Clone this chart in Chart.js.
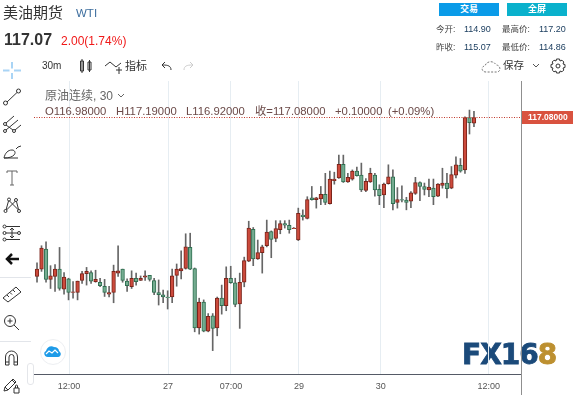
<!DOCTYPE html>
<html>
<head>
<meta charset="utf-8">
<script src="https://cdn.jsdelivr.net/npm/chart.js@4"></script>
<style>
html, body { margin: 0; padding: 0; background: #fff; }
#page { position: relative; width: 573px; height: 395px; overflow: hidden; font-family: "Liberation Sans", "Noto Sans CJK SC", sans-serif; color: #333; }
#page div { position: absolute; white-space: nowrap; line-height: 1; }
#chart { position: absolute; left: 0; top: 0; }
#page svg { position: absolute; fill: none; stroke: #333; stroke-width: 1; }
.btn { color: #fff; font-size: 9px; font-weight: bold; text-align: center; height: 13px; line-height: 13px !important; top: 3px; width: 60px; }
.stat { font-size: 8.5px; color: #444; }
.num { font-size: 9px; color: #1d3f60; }
.ohlc { font-size: 11.3px; color: #6b4a48; top: 106px; }
#logo { left: 462px; top: 341px; font-family: "DejaVu Sans"; font-weight: bold; font-size: 28px; letter-spacing: -1px; color: #1b4a7a; -webkit-text-stroke: 0.8px #1b4a7a; filter: blur(0.5px); }
#logo b { color: #bd9030; -webkit-text-stroke: 0.8px #bd9030; }
</style>
</head>
<body>
<div id="page">
  <div id="logo">FX16<b>8</b></div>
  <canvas id="chart" width="573" height="395"></canvas>

  <div style="left:3px;top:5px;font-size:15px">美油期货</div>
  <div style="left:76px;top:8px;font-size:11.5px;color:#3d6e9e">WTI</div>
  <div style="left:4px;top:32px;font-size:16px;font-weight:bold">117.07</div>
  <div style="left:61px;top:35px;font-size:12px;color:#f01818">2.00(1.74%)</div>

  <div class="btn" style="left:439px;background:#0a9be8">交易</div>
  <div class="btn" style="left:507px;background:#0ab1cc">全屏</div>
  <div class="stat" style="left:436px;top:25px">今开:</div>
  <div class="num" style="left:464px;top:25px">114.90</div>
  <div class="stat" style="left:502px;top:25px">最高价:</div>
  <div class="num" style="left:539px;top:25px">117.20</div>
  <div class="stat" style="left:436px;top:43px">昨收:</div>
  <div class="num" style="left:464px;top:43px">115.07</div>
  <div class="stat" style="left:502px;top:43px">最低价:</div>
  <div class="num" style="left:539px;top:43px">114.86</div>

  <div style="left:42px;top:61px;font-size:10px">30m</div>
  <div style="left:125px;top:61px;font-size:11px">指标</div>
  <div style="left:503px;top:60px;font-size:10.5px">保存</div>

  <div style="left:45px;top:90px;font-size:12px;color:#666">原油连续, 30</div>
  <svg style="left:117px;top:93px;stroke:#666" width="8" height="6"><path d="M1 1l3 3 3-3"/></svg>
  <div class="ohlc" style="left:45px">O116.98000</div>
  <div class="ohlc" style="left:116px">H117.19000</div>
  <div class="ohlc" style="left:186px">L116.92000</div>
  <div class="ohlc" style="left:255px">收=117.08000</div>
  <div class="ohlc" style="left:335px">+0.10000</div>
  <div class="ohlc" style="left:388px">(+0.09%)</div>

  <!-- top toolbar -->
  <svg style="left:78px;top:58px" width="15" height="16"><path d="M2.500 3v10h3V3zM4 1v14M10 4v8h3V4zM11.500 2v12"/></svg>
  <svg style="left:104px;top:58px" width="19" height="18"><path d="M1 8l5-4 6 5 5-4M12 12h6M15 9v7"/></svg>
  <svg style="left:160px;top:59px" width="13" height="13"><path d="M11 11c0-4-3-5-8-5M5 3L2 6l3 3"/></svg>
  <svg style="left:182px;top:59px;stroke:#ccc" width="13" height="13"><path d="M2 11c0-4 3-5 8-5M8 3l3 3-3 3"/></svg>
  <svg style="left:481px;top:59px;stroke:#777;stroke-dasharray:2 1.5" width="21" height="15"><path d="M5 13c-5 0-5-6-1-6 1-5 9-6 11-1 5 0 5 7 1 7z"/></svg>
  <svg style="left:532px;top:63px;stroke:#555" width="9" height="6"><path d="M1 1l3 3 3-3"/></svg>
  <svg style="left:550px;top:58px" width="16" height="16"><circle cx="8" cy="8" r="2"/><path d="M6.500 1h3l.5 2 2-.8 1.800 1.800-.8 2 2 .5v3l-2 .5.8 2-1.800 1.800-2-.8-.5 2h-3l-.5-2-2 .8-1.800-1.800.8-2-2-.5v-3l2-.5-.8-2L4 2.200l2 .8z"/></svg>

  <!-- left drawing toolbar -->
  <svg style="left:3px;top:62px;stroke:#a9d4f5;stroke-width:2" width="18" height="17"><path d="M0 8.500h6.500M11 8.500h7M9 0v6.500M9 11v6"/></svg>
  <svg style="left:3px;top:88px" width="18" height="18"><circle cx="2.500" cy="15" r="2"/><circle cx="15.500" cy="3" r="2"/><path d="M4 14L14 4.500"/></svg>
  <svg style="left:3px;top:115px" width="18" height="18"><circle cx="2" cy="9" r="1.500"/><circle cx="2" cy="16" r="1.500"/><circle cx="11" cy="16" r="1.500"/><path d="M3 8l8-7M3 15L15 5M12 15l6-5M3 10l7 5"/></svg>
  <svg style="left:3px;top:142px" width="20" height="18"><path d="M1 16h14M1 16c1-5 4-8 8-8 3 0 4 3 2 5-2 2-5 3-10 3zM13 7l2-2 3-1"/></svg>
  <svg style="left:6px;top:170px;stroke:#666" width="12" height="16"><path d="M1 3V1h10v2M6 1v14M4 15h4"/></svg>
  <svg style="left:3px;top:197px" width="18" height="17"><circle cx="2.500" cy="14" r="1.500"/><circle cx="6" cy="2.500" r="1.500"/><circle cx="13" cy="3" r="1.500"/><circle cx="16" cy="14" r="1.500"/><path d="M3.500 13L12.500 4M6.500 4l9 9M3 13L5.500 4M13.500 4.500l2 8"/></svg>
  <svg style="left:2px;top:224px" width="19" height="18"><circle cx="2.500" cy="2.500" r="1.500"/><circle cx="2.500" cy="9" r="1.500"/><circle cx="2.500" cy="15.500" r="1.500"/><circle cx="17" cy="9" r="1.500"/><path d="M4 2.500h14M4 9h11.500M4 15.500h14M10 4v10M8 6l2-2 2 2M8 12l2 2 2-2"/></svg>
  <svg style="left:5px;top:252px;stroke:#111;stroke-width:2.500" width="14" height="14"><path d="M7 2L2 7l5 5M2 7h12"/></svg>
  <div style="left:0;top:277px;width:31px;height:1px;background:#e2e5ea"></div>
  <svg style="left:2px;top:285px" width="20" height="18"><path d="M1 13L14 2l5 5L6 17zM5 10l2 2M8 7.500l2 2M11 5l2 2"/></svg>
  <svg style="left:3px;top:314px" width="17" height="17"><circle cx="7" cy="7" r="5.500"/><path d="M4.500 7h5M7 4.500v5M11 11l5 5"/></svg>
  <div style="left:0;top:341px;width:31px;height:1px;background:#e2e5ea"></div>
  <svg style="left:4px;top:350px" width="15" height="17"><path d="M1.500 15V7a6 6 0 0 1 12 0v8h-3.500V7a2.500 2.500 0 0 0-5 0v8zM1.500 12h3.500M10 12h3.500"/></svg>
  <svg style="left:3px;top:377px" width="18" height="17"><path d="M1 14l1-4L10 2l3 3-8 8zM2 10l3 3M9 3l3 3"/><path d="M11 11h5v5h-5zM12.500 11V9a1 1 0 0 1 2 0v2"/></svg>
  <div style="left:27px;top:363px;width:5px;height:20px;border:1px solid #e4e6ea;border-radius:3px;background:#fff"></div>

  <!-- cloud badge -->
  <div style="left:40px;top:339px;width:24px;height:24px;border:1px solid #eceef1;border-radius:50%;background:#fff"></div>
  <svg style="left:44px;top:345px;fill:#1e9be8;stroke:none" width="17" height="12"><path d="M4 12C0 12-1 7 2 6 3 2 7 0 10 2c3 0 5 2 5 4 3 2 2 6-1 6z"/><path d="M2 9l3-3 3 2 3-3 3 3" style="fill:none;stroke:#fff;stroke-width:1.200"/></svg>
</div>

<script>
// candles, one per 30 minutes, oldest first
const opens = [114.29,114.42,114.77,114.24,114.29,114.42,114.07,114.25,114.01,114.01,114.22,114.34,114.36,114.20,114.19,114.12,113.98,114.01,114.35,114.42,114.21,114.11,114.26,114.22,114.28,114.31,114.22,114.01,113.97,113.93,113.93,114.31,114.39,114.43,114.80,114.43,113.39,113.84,113.33,113.60,113.39,113.91,113.78,114.26,114.18,113.81,114.19,114.56,115.12,114.60,114.71,114.83,115.08,114.96,115.11,115.22,115.19,115.13,114.93,115.37,115.31,115.67,115.64,115.65,115.73,115.57,115.97,116.02,116.26,115.95,116.00,116.14,116.07,115.80,115.95,116.07,115.82,115.72,115.92,116.04,115.59,115.64,115.63,115.61,115.75,115.94,115.87,115.81,115.84,115.70,115.89,115.93,115.84,116.07,116.24,116.16,117.08,116.98];
const highs = [114.53,114.83,114.90,114.48,114.50,114.80,114.36,114.26,114.20,114.21,114.38,114.45,114.39,114.40,114.26,114.24,114.12,114.49,114.83,114.42,114.25,114.39,114.35,114.30,114.39,114.31,114.26,114.23,114.05,114.04,114.42,114.51,114.74,115.04,115.05,114.44,113.91,113.88,113.64,113.64,113.93,114.14,114.46,114.47,114.26,114.35,114.63,115.26,115.15,114.93,114.84,115.28,115.09,115.27,115.27,115.27,115.28,115.15,115.49,115.46,115.69,115.87,115.68,115.87,116.10,116.14,116.12,116.42,116.42,116.10,116.16,116.21,116.28,116.01,116.19,116.10,115.90,115.93,116.25,116.16,115.85,115.88,115.68,115.78,116.03,115.95,115.93,116.00,116.00,115.92,116.19,116.10,116.22,116.39,116.36,117.09,117.21,117.19];
const lows = [114.19,114.38,114.19,114.08,114.03,114.05,113.98,113.88,113.91,113.88,114.17,114.14,114.17,114.19,114.11,113.94,113.93,113.83,114.29,114.19,114.03,114.08,114.14,114.22,114.22,114.21,113.97,113.79,113.83,113.72,113.83,114.12,114.25,114.42,114.41,113.32,113.28,113.32,113.32,112.99,113.25,113.63,113.69,114.17,113.76,113.38,114.11,114.55,114.48,114.59,114.35,114.81,114.62,114.90,115.04,115.14,115.05,115.13,114.92,115.28,115.30,115.63,115.49,115.55,115.55,115.56,115.91,116.01,115.94,115.94,115.98,116.05,115.78,115.78,115.94,115.70,115.55,115.50,115.91,115.46,115.49,115.60,115.46,115.50,115.73,115.62,115.72,115.69,115.55,115.69,115.84,115.67,115.83,116.02,116.12,116.10,116.79,116.92];
const closes = [114.42,114.79,114.24,114.30,114.42,114.08,114.28,114.01,114.02,114.21,114.34,114.38,114.21,114.24,114.13,114.01,114.01,114.38,114.39,114.22,114.13,114.26,114.20,114.26,114.30,114.24,114.01,113.97,113.93,113.92,114.30,114.42,114.43,114.81,114.42,113.39,113.84,113.33,113.59,113.38,113.91,113.78,114.26,114.18,113.80,114.19,114.57,115.14,114.60,114.71,114.81,115.07,114.94,115.13,115.22,115.19,115.11,115.14,115.40,115.34,115.64,115.64,115.67,115.73,115.59,116.00,116.00,116.26,115.95,116.03,116.14,116.06,115.81,115.96,116.10,115.81,115.71,115.91,116.04,115.57,115.64,115.63,115.59,115.76,115.94,115.87,115.82,115.86,115.69,115.91,115.93,115.83,116.08,116.25,116.14,117.08,116.99,117.08];

// x axis
const tickPositions = [7.1, 29.1, 43.06, 58.15, 76.3, 100.3];
const tickLabels = ["12:00", "27", "07:00", "29", "30", "12:00"];
const lastPrice = 117.08;

const upFill = "#cc4a3c", upLine = "#7a241a";
const downFill = "#74ac90", downLine = "#2f6f51";

const isUp = i => closes[i] >= opens[i];
const wickData = opens.map((o, i) => ({x: i, y: [lows[i], highs[i]]}));
const bodyData = opens.map((o, i) => ({x: i, y: [o, closes[i]]}));

// dotted last price line, price tag and the line between plot and price axis
const priceLine = {
    id: "priceLine",
    afterDatasetsDraw(chart) {
        const {ctx, chartArea, scales} = chart;
        const y = scales.y.getPixelForValue(lastPrice);
        ctx.save();
        ctx.strokeStyle = "#c0392b";
        ctx.setLineDash([1, 1.5]);
        ctx.beginPath();
        ctx.moveTo(chartArea.left, Math.round(y) + 0.5);
        ctx.lineTo(chartArea.right, Math.round(y) + 0.5);
        ctx.stroke();
        ctx.setLineDash([]);
        ctx.strokeStyle = "#8f8f8f";
        ctx.beginPath();
        ctx.moveTo(chartArea.right + 0.5, chartArea.top);
        ctx.lineTo(chartArea.right + 0.5, 395);
        ctx.stroke();
        ctx.fillStyle = "#d9523f";
        ctx.fillRect(chartArea.right + 1, Math.round(y) - 6, 52, 13);
        ctx.fillStyle = "#fff";
        ctx.font = "bold 8.5px 'Liberation Sans'";
        ctx.textBaseline = "middle";
        ctx.fillText(lastPrice.toFixed(5), chartArea.right + 7, Math.round(y) + 1);
        ctx.restore();
    }
};

new Chart(document.querySelector("#chart"), {
    type: "bar",
    data: {
        datasets: [{
            data: wickData,
            backgroundColor: "#666",
            barThickness: 1,
            order: 2
        }, {
            data: bodyData,
            backgroundColor: ctx => isUp(ctx.dataIndex) ? upFill : downFill,
            borderColor: ctx => isUp(ctx.dataIndex) ? upLine : downLine,
            borderWidth: 1,
            borderSkipped: false,
            barThickness: 3.7,
            order: 1
        }]
    },
    options: {
        responsive: false,
        animation: false,
        layout: {padding: {left: 34, right: 52, top: 81, bottom: 0}},
        plugins: {legend: {display: false}, tooltip: {enabled: false}},
        datasets: {bar: {grouped: false}},
        scales: {
            x: {
                type: "linear",
                offset: false,
                min: -0.67,
                max: 107.44,
                afterBuildTicks: scale => { scale.ticks = tickPositions.map(v => ({value: v})); },
                afterFit: scale => { scale.height = 21; },
                grid: {offset: false, color: "#e6edf2", drawTicks: false},
                border: {color: "#555a66"},
                ticks: {
                    autoSkip: false,
                    maxRotation: 0,
                    padding: 7,
                    color: "#555",
                    font: {size: 9, family: "'Liberation Sans'"},
                    callback: v => tickLabels[tickPositions.indexOf(v)]
                }
            },
            y: {display: false, min: 112.58, max: 117.72}
        }
    },
    plugins: [priceLine]
});
</script>
</body>
</html>
